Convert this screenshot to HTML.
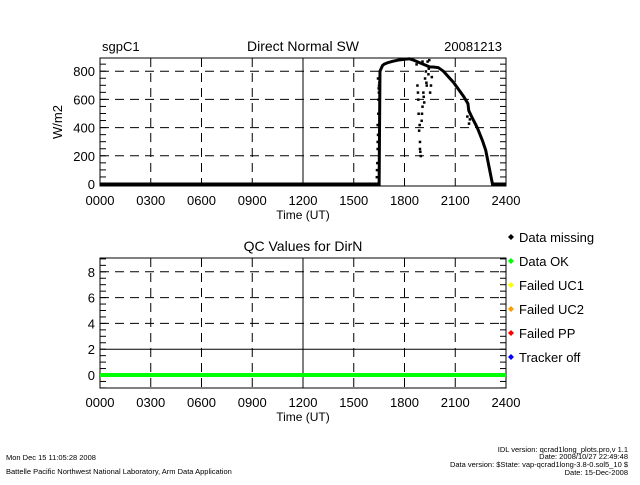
<!DOCTYPE html>
<html><head><meta charset="utf-8"><style>
body{margin:0;background:#fff;}
svg text{font-family:"Liberation Sans",sans-serif;fill:#000;}
</style></head><body>
<svg id="c" width="640" height="480" viewBox="0 0 640 480" xmlns="http://www.w3.org/2000/svg">
<g id="g"></g>
</svg>
<script>
const xTickLabels=["0000","0300","0600","0900","1200","1500","1800","2100","2400"];
const yTicksTop=[0,200,400,600,800];
const yTicksQc=[0,2,4,6,8];
const mainHours=[0,16.5,16.55,16.7,16.8,17.0,17.3,17.6,18.0,18.3,18.5,19.5,19.7,20.0,20.3,20.6,20.9,21.2,21.5,21.75,21.8,22.0,22.3,22.6,22.8,23.0,23.2,24.0];
const mainValues=[0,0,800,840,850,860,870,878,885,888,880,830,830,825,800,760,720,670,620,570,520,470,400,310,240,120,0,0];
const scatterHours=[16.35,16.38,16.4,16.42,16.4,16.44,16.45,16.47,16.48,16.42,16.46,16.5,16.36,16.4,18.7,18.75,18.8,18.82,18.85,18.9,18.95,18.9,19.0,19.05,19.1,19.15,19.2,19.25,19.3,19.35,19.4,19.5,19.6,19.05,18.95,19.45,21.7,21.8,21.85,18.78,18.88,19.12,19.28,19.42,19.55,18.92,19.02];
const scatterValues=[50,150,250,350,420,500,600,650,700,750,680,720,100,300,850,700,600,500,380,300,200,250,450,550,650,580,750,800,700,870,780,650,760,870,860,880,480,430,460,650,420,620,720,820,700,230,500];
const qcHours=[0,24];
const qcValues=[0,0];
const legendLabels=["Data missing","Data OK","Failed UC1","Failed UC2","Failed PP","Tracker off"];
const legendColors=["#000","#00ff00","#ffff00","#ff9900","#ff0000","#0000ff"];

const NS="http://www.w3.org/2000/svg";
const g=document.getElementById('g');
function el(t,a,txt){const e=document.createElementNS(NS,t);for(const k in a)e.setAttribute(k,a[k]);if(txt!==undefined)e.textContent=txt;g.appendChild(e);return e;}
const X0=100,X1=506;
const xs=h=>X0+(X1-X0)*h/24;
const yTop=v=>184-v*0.141;
const yQc=v=>375-v*12.9;

function panel(top,bot,yf,yticks,minorStep,ymin,ymax,solidY,title,name){
  let e=el('rect',{x:X0,y:top,width:X1-X0,height:bot-top,fill:'none',stroke:'#000','stroke-width':1});
  
  
  for(let i=1;i<8;i++){const x=xs(i*3);
    e=el('line',{x1:x,x2:x,y1:top,y2:bot,stroke:'#000','stroke-dasharray':i==4?'':'9,6'});
    
    }
  yticks.forEach(v=>{const y=yf(v);
    if(v!==0){e=el('line',{x1:X0,x2:X1,y1:y,y2:y,stroke:'#000','stroke-dasharray':v===solidY?'':'9,6'});
      
      }
    e=el('text',{x:X0-5,y:y+5,'text-anchor':'end','font-size':13},String(v));
    
    });
  for(let v=ymin;v<=ymax;v+=minorStep){const y=yf(v);if(y<top||y>bot)continue;
    el('line',{x1:X0,x2:X0+6,y1:y,y2:y,stroke:'#000'});el('line',{x1:X1-6,x2:X1,y1:y,y2:y,stroke:'#000'});}
  xTickLabels.forEach((t,i)=>{e=el('text',{x:xs(i*3),y:bot+19,'text-anchor':'middle','font-size':13},t);
    
    });
  e=el('text',{x:303,y:bot+33,'text-anchor':'middle','font-size':12},'Time (UT)');
  
  
  e=el('text',{x:303,y:top-7,'text-anchor':'middle','font-size':14},title);
  
  
}
panel(58,186,yTop,yTicksTop,50,0,900,null,'Direct Normal SW','dirn-panel');
panel(258,388,yQc,yTicksQc,0.5,-1,9,2,'QC Values for DirN','qc-panel');

let t=el('text',{x:102,y:51,'font-size':13},'sgpC1');


t=el('text',{x:502,y:51,'text-anchor':'end','font-size':13},'20081213');


t=el('text',{x:0,y:0,'font-size':13,transform:'translate(62,122) rotate(-90)','text-anchor':'middle'},'W/m2');



let pts=mainHours.map((h,i)=>xs(h)+','+yTop(mainValues[i])).join(' ');
let p=el('polyline',{points:pts,fill:'none',stroke:'#000','stroke-width':3});


scatterHours.forEach((h,i)=>{const r=el('rect',{x:xs(h)-1,y:yTop(scatterValues[i])-1,width:2.5,height:2.5,fill:'#000'});
  
  });
p=el('polyline',{points:qcHours.map((h,i)=>xs(h)+','+yQc(qcValues[i])).join(' '),fill:'none',stroke:'#00ff00','stroke-width':4});



legendLabels.forEach((l,i)=>{const y=237+i*24;
  const d=el('path',{d:`M511 ${y-3} l3 3 l-3 3 l-3 -3z`,fill:legendColors[i]});
  
  
  const tx=el('text',{x:519,y:y+5,'font-size':13},l);
  
  });

[[6,460,'Mon Dec 15 11:05:28 2008','start'],[6,474,'Battelle Pacific Northwest National Laboratory, Arm Data Application','start'],
 [628,452,'IDL version: qcrad1long_plots.pro,v 1.1','end'],[628,459,'Date: 2008/10/27 22:49:48','end'],
 [628,467,'Data version: $State: vap-qcrad1long-3.8-0.sol5_10 $','end'],[628,475,'Date: 15-Dec-2008','end']].forEach(a=>{
  const f=el('text',{x:a[0],y:a[1],'font-size':7.5,'text-anchor':a[3]},a[2]);
  
  });
</script>
</body></html>
